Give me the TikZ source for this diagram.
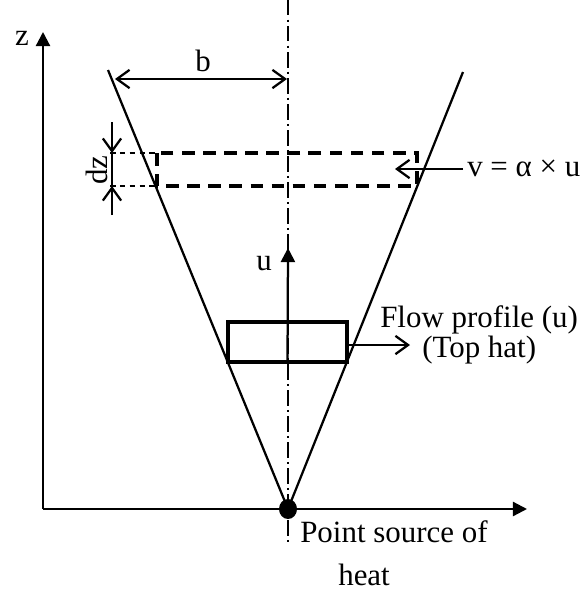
\documentclass[tikz,border=0pt]{standalone}
\usepackage{fontspec}
\setmainfont{Liberation Serif}
\usetikzlibrary{positioning, shapes.geometric, arrows.meta, calc}

\begin{document}
\begin{tikzpicture}[x=0.025cm, y=-0.025cm,
        ln/.style={line width=1.6pt},
        ax/.style={line width=1.6pt, -{Triangle[length=10pt,width=10pt]}},
        br/.style={line width=1.6pt, -{Straight Barb[length=9pt,width=13pt]}},
        lb/.style={inner sep=0pt, font=\fontsize{22}{26}\selectfont}]
      \useasboundingbox (0,0) rectangle (585,594);
      % axis points
      \coordinate (o) at (43,509);
      \coordinate (zt) at (43,32);
      \coordinate (xt) at (527,509);
      \coordinate (src) at (288,509);
      \coordinate (ct) at (288,0);
      \coordinate (cb) at (288,545);
      \coordinate (lt) at (108,70);
      \coordinate (rt) at (463,72);
      % centre line
      \draw[line width=1pt, dash pattern=on 11pt off 3pt on 1.5pt off 3pt] (ct) -- (cb);
      % axes
      \draw[ax] (o) -- (zt);
      \draw[ax] (o) -- (xt);
      \node[lb, anchor=base] (z) at (22,45) {z};
      % plume edges
      \draw[ln] (lt) -- (src) -- (rt);
      % width b
      \coordinate (bw1) at (115,79);
      \coordinate (bw2) at (287,79);
      \draw[ln, {Straight Barb[length=9pt,width=13pt]}-{Straight Barb[length=9pt,width=13pt]}] (bw1) -- (bw2);
      \node[lb, anchor=base] (b) at (203,71) {b};
      % slice dz
      \draw[line width=2.5pt, dash pattern=on 9pt off 6pt] (157,153) rectangle (417,186);
      \draw[line width=0.8pt, dash pattern=on 4pt off 3pt] (110,153) -- (157,153);
      \draw[line width=0.8pt, dash pattern=on 4pt off 3pt] (110,186) -- (157,186);
      \coordinate (d1) at (112,122);
      \coordinate (d2) at (112,153);
      \coordinate (d3) at (112,186);
      \coordinate (d4) at (112,215);
      \draw[br] (d1) -- (d2);
      \draw[br] (d4) -- (d3);
      \draw[ln] (d2) -- (d3);
      \node[lb, anchor=base, rotate=90] (dz) at (107,170) {dz};
      % entrainment
      \node[lb, anchor=base west] (v) at (467,176) {v = α × u};
      \coordinate (vs) at (463,169);
      \coordinate (vt) at (395,169);
      \draw[br] (vs) -- (vt);
      % top hat profile
      \node[draw, line width=2.6pt, minimum width=119*0.025cm, minimum height=40*0.025cm,
            inner sep=0pt] (th) at (287.5,342) {};
      \draw[ax] (th.south) -- (288,248);
      \node[lb, anchor=base] (u) at (264,270) {u};
      \coordinate (ft) at (410,345);
      \draw[br] (th.east |- ft) -- (ft);
      \node[lb, anchor=base west] (fp) at (380,327) {Flow profile (u)};
      \node[lb, anchor=base west] (thl) at (422,357) {(Top hat)};
      % source
      \node[fill, ellipse, minimum width=18*0.025cm, minimum height=20*0.025cm,
            inner sep=0pt] (dot) at (src) {};
      \node[lb, anchor=base west] (ps) at (300,542) {Point source of};
      \node[lb, anchor=base west] (heat) at (338,585) {heat};
    \end{tikzpicture}
\end{document}
